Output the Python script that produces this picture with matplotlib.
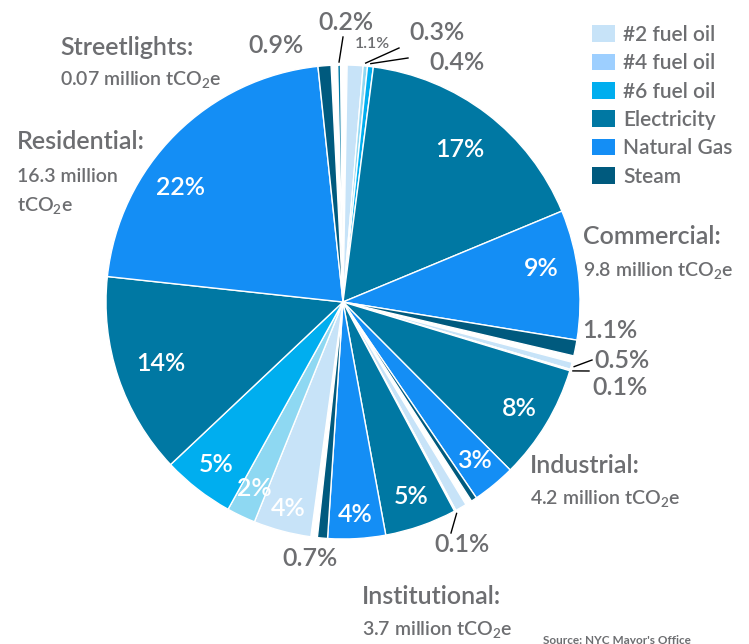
import numpy as np
import matplotlib.pyplot as plt
from matplotlib.patches import Patch

plt.rcParams['font.family'] = ['Lato', 'DejaVu Sans']
plt.rcParams['font.weight'] = 'semibold'
plt.rcParams['mathtext.fontset'] = 'custom'
plt.rcParams['mathtext.rm'] = 'Lato:semibold'
plt.rcParams['mathtext.it'] = 'Lato:italic'
plt.rcParams['mathtext.bf'] = 'Lato:bold'

# share of NYC emissions (%), by sector and fuel, clockwise from the top
commercial_fuel = ['#2 fuel oil', '#4 fuel oil', '#6 fuel oil', 'Electricity', 'Natural Gas', 'Steam']
commercial_pct = [1.1, 0.3, 0.4, 17, 9, 1.1]
industrial_fuel = ['#2 fuel oil', '#6 fuel oil', 'Electricity', 'Natural Gas', 'Steam']
industrial_pct = [0.5, 0.1, 8, 3, 0.4]
institutional_fuel = ['#2 fuel oil', '#6 fuel oil', 'Electricity', 'Natural Gas', 'Steam']
institutional_pct = [0.8, 0.1, 5, 4, 0.7]
residential_fuel = ['#2 fuel oil', '#4 fuel oil', '#6 fuel oil', 'Electricity', 'Natural Gas', 'Steam']
residential_pct = [4, 2, 5, 14, 22, 0.9]
streetlights_fuel = ['Electricity']
streetlights_pct = [0.2]

sectors = ['Commercial', 'Industrial', 'Institutional', 'Residential', 'Streetlights']
sector_total = ['9.8 million tCO$_2$e', '4.2 million tCO$_2$e', '3.7 million tCO$_2$e',
                '16.3 million\ntCO$_2$e', '0.07 million tCO$_2$e']

fuels = ['#2 fuel oil', '#4 fuel oil', '#6 fuel oil', 'Electricity', 'Natural Gas', 'Steam']
fuel_colors = {'#2 fuel oil': '#c7e3f8', '#4 fuel oil': '#8ed8f2', '#6 fuel oil': '#00aeef',
               'Electricity': '#0078a3', 'Natural Gas': '#148ef5', 'Steam': '#005a7e'}
legend_colors = ['#c7e3f8', '#9dcfff', '#00aeef', '#0078a3', '#148ef5', '#005a7e']

GREY = '#6d6e71'
GAP = 0.45

# one flat list for the pie, with invisible gaps between sectors
groups = [(commercial_fuel, commercial_pct), (industrial_fuel, industrial_pct),
          (institutional_fuel, institutional_pct), (residential_fuel, residential_pct),
          (streetlights_fuel, streetlights_pct)]
vals, cols, keys = [], [], []
for sec, (f, p) in zip(sectors, groups):
    for fu, v in zip(f, p):
        vals.append(v)
        cols.append(fuel_colors[fu])
        keys.append((sec, fu))
    vals.append(GAP)
    cols.append('none')
    keys.append(None)

W, H = 749, 644
fig = plt.figure(figsize=(W / 100, H / 100), dpi=100)
ax = fig.add_axes([0, 0, 1, 1])
cx, cy, R = 343, 302, 237

wedges, _ = ax.pie(vals, colors=cols, center=(cx, cy), radius=R, startangle=-89,
                   counterclock=True, wedgeprops=dict(edgecolor='white', linewidth=1))
for w, k in zip(wedges, keys):
    if k is None:
        w.set_edgecolor('none')
ax.set_xlim(0, W)
ax.set_ylim(H, 0)
ax.set_aspect('auto')
ax.axis('off')


def rim(w, r, turn=0):
    a = np.deg2rad((w.theta1 + w.theta2) / 2 + turn)
    return cx + r * np.cos(a), cy + r * np.sin(a)


# percentages inside the big slices (a few nudged off the mid-angle)
nudge = {('Residential', 'Natural Gas'): (-10, 0.84),
         ('Commercial', 'Natural Gas'): (-3, 0.85),
         ('Residential', '#2 fuel oil'): (0, 0.9),
         ('Institutional', 'Natural Gas'): (0, 0.9)}
for w, k, v in zip(wedges, keys, vals):
    if k is None or v < 2:
        continue
    turn, rf = nudge.get(k, (0, 0.81 if v >= 10 else 0.87))
    x, y = rim(w, R * rf, turn)
    ax.text(x, y, f'{v:g}%', color='white', fontsize=18, ha='center', va='center')

# small slices: labels outside, some with leader lines
outside = {
    ('Streetlights', 'Electricity'): (346, 22, 18, (343, 37)),
    ('Commercial', '#2 fuel oil'): (372, 44, 11.5, None),
    ('Commercial', '#4 fuel oil'): (437, 32, 18, (399, 48)),
    ('Commercial', '#6 fuel oil'): (457, 62, 18, (408, 58)),
    ('Residential', 'Steam'): (276, 45, 18, None),
    ('Commercial', 'Steam'): (610, 330, 18, None),
    ('Industrial', '#2 fuel oil'): (622, 360, 18, (592, 360)),
    ('Industrial', '#6 fuel oil'): (620, 387, 18, (589, 371)),
    ('Institutional', '#6 fuel oil'): (462, 545, 18, (451, 533)),
    ('Institutional', 'Steam'): (310, 559, 18, None),
}
for w, k, v in zip(wedges, keys, vals):
    if k not in outside:
        continue
    tx, ty, fs, end = outside[k]
    ax.text(tx, ty, f'{v:g}%', color=GREY, fontsize=fs, ha='center', va='center')
    if end is not None:
        sx, sy = rim(w, R + 3)
        ax.plot([sx, end[0]], [sy, end[1]], color='black', lw=1)

# sector names
sector_pos = {'Commercial': (583, 236, 270), 'Industrial': (530, 465, 498),
              'Institutional': (362, 597, 630), 'Residential': (17, 141, 192),
              'Streetlights': (60, 47, 79)}
for sec, tot in zip(sectors, sector_total):
    x, y1, y2 = sector_pos[sec]
    ax.text(x, y1, sec + ':', color=GREY, fontsize=18, ha='left', va='center')
    ax.text(x, y2, tot, color=GREY, fontsize=14, ha='left', va='center', linespacing=1.65)

ax.text(543, 640, "Source: NYC Mayor's Office", color=GREY, fontsize=8.5,
        fontweight='bold', ha='left', va='center')

handles = [Patch(facecolor=c, edgecolor='none') for c in legend_colors]
fig.legend(handles, fuels, loc='upper left', bbox_to_anchor=(592 / W, 1 - 25 / H),
           frameon=False, fontsize=15, labelcolor=GREY, handlelength=1.1,
           handleheight=0.85, handletextpad=0.4, labelspacing=0.4, borderpad=0,
           borderaxespad=0)

fig.savefig('out.png', dpi=100)
